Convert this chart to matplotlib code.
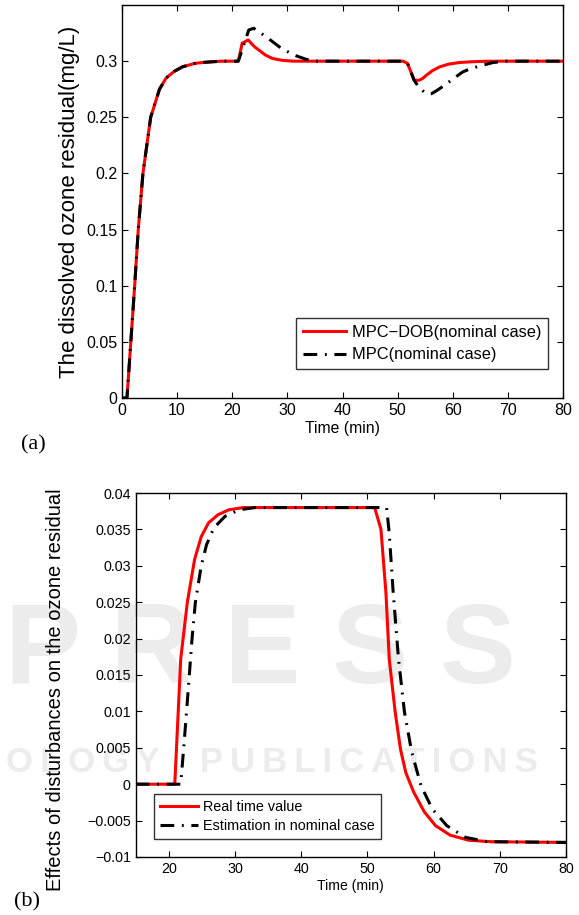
import numpy as np
import matplotlib
matplotlib.use("Agg")
import matplotlib.pyplot as plt
from matplotlib.ticker import FuncFormatter

plt.rcParams["font.family"] = ["Liberation Sans", "DejaVu Sans"]

# (a) dissolved ozone residual
t_dob = [0, 0.9, 1.6, 2.3, 2.95, 3.8, 5.2, 6.8, 8.0, 9.5, 11, 13.2, 15, 18, 21.1,
         21.8, 22.9, 23.6, 24.2, 24.8, 26, 27.3, 29, 31, 36, 51.0, 51.8, 53.0, 53.9,
         54.5, 55.2, 56.3, 57.6, 59.2, 61.2, 63.5, 66, 70, 80]
y_dob = [0, 0, 0.05, 0.10, 0.15, 0.20, 0.25, 0.275, 0.285, 0.291, 0.295, 0.298,
         0.299, 0.30, 0.30, 0.316, 0.3189, 0.315, 0.3122, 0.310, 0.3055, 0.3024,
         0.3008, 0.3, 0.3, 0.3, 0.298, 0.283, 0.283, 0.2845, 0.2874, 0.2915,
         0.2949, 0.2973, 0.2988, 0.2995, 0.2999, 0.3, 0.3]

t_mpc = [0, 0.9, 1.6, 2.3, 2.95, 3.8, 5.2, 6.8, 8.0, 9.5, 11, 13.2, 15, 18, 21.1,
         23.0, 23.9, 26.1, 28.5, 30.9, 33.3, 35.2, 51.0, 51.8, 53.0, 53.9, 55.2,
         56.1, 57.0, 58.2, 60.0, 61.8, 63.3, 64.8, 67.3, 69.7, 80]
y_mpc = [0, 0, 0.05, 0.10, 0.15, 0.20, 0.25, 0.275, 0.285, 0.291, 0.295, 0.298,
         0.299, 0.30, 0.30, 0.3278, 0.3293, 0.3219, 0.3129, 0.306, 0.3018, 0.3,
         0.3, 0.298, 0.283, 0.2763, 0.271, 0.271, 0.2735, 0.2775, 0.284, 0.2904,
         0.2935, 0.2955, 0.2988, 0.3, 0.3]

# (b) effects of disturbances
t_real = [15, 20.9, 21.8, 22.8, 23.9, 24.9, 26.0, 27.4, 29.1, 31.3, 51.1, 52.05,
          52.8, 53.3, 54.2, 55.0, 55.8, 57.0, 58.6, 60.3, 62.5, 65.3, 68.7, 80]
y_real = [0, 0, 0.0172, 0.025, 0.0309, 0.034, 0.0359, 0.037, 0.0377, 0.038, 0.038,
          0.035, 0.0263, 0.0172, 0.0099, 0.0048, 0.0016, -0.0011, -0.0038, -0.0057,
          -0.007, -0.0077, -0.0079, -0.008]

t_est = [15, 21.8, 22.4, 22.9, 23.5, 24.0, 24.9, 25.7, 26.8, 28.5, 30.7, 33, 52.9,
         53.3, 53.9, 54.7, 55.6, 56.7, 58.1, 59.8, 62.0, 64.8, 68.1, 80]
y_est = [0, 0, 0.0067, 0.0126, 0.0199, 0.0249, 0.03, 0.0329, 0.0352, 0.0368, 0.0377,
         0.038, 0.038, 0.0345, 0.0263, 0.0172, 0.0099, 0.0044, -0.0002, -0.0034,
         -0.0057, -0.0073, -0.0079, -0.008]


def fmt(v, pos):
    return f"{round(v, 6):g}".replace("-", "\u2212")


fig = plt.figure(figsize=(5.79, 9.15), dpi=100)

# faint publisher watermark behind the lower panel
wm = "#ececec"
fig.text(0.45, 0.285, "P R E S S", fontsize=82, fontweight="bold", color=wm,
         ha="center", va="center", zorder=-5)
fig.text(0.47, 0.167, "\u2009".join("OLOGY  PUBLICATIONS"), fontsize=25,
         fontweight="bold", color=wm, ha="center", va="center", zorder=-5)

ax1 = fig.add_axes([0.2107, 0.565, 0.7617, 0.4295])
ax2 = fig.add_axes([0.2344, 0.0634, 0.7431, 0.3978])
ax2.set_facecolor("none")

ax1.plot(t_dob, y_dob, color="red", lw=2.2, label="MPC\u2212DOB(nominal case)")
ax1.plot(t_mpc, y_mpc, color="black", lw=2.2, dashes=(4.5, 2.5, 0.6, 2.5),
         label="MPC(nominal case)")
ax1.set_xlim(0, 80)
ax1.set_ylim(0, 0.35)
ax1.set_xticks(np.arange(0, 81, 10))
ax1.set_yticks([0, 0.05, 0.1, 0.15, 0.2, 0.25, 0.3])
ax1.yaxis.set_major_formatter(FuncFormatter(fmt))
ax1.tick_params(direction="in", top=True, right=True, length=4, labelsize=11.5)
ax1.set_xlabel("Time (min)", fontsize=11.3, labelpad=2)
ax1.set_ylabel("The dissolved ozone residual(mg/L)", fontsize=16, labelpad=4)
leg1 = ax1.legend(loc="lower right", bbox_to_anchor=(0.966, 0.074), fontsize=11.8,
                  frameon=True, fancybox=False, edgecolor="black", handlelength=2.6,
                  borderpad=0.4, labelspacing=0.45, handletextpad=0.4,
                  borderaxespad=0)
leg1.get_frame().set_linewidth(1.0)

ax2.plot(t_real, y_real, color="red", lw=2.2, label="Real time value")
ax2.plot(t_est, y_est, color="black", lw=2.2, dashes=(4.5, 2.5, 0.6, 2.5),
         label="Estimation in nominal case")
ax2.set_xlim(15, 80)
ax2.set_ylim(-0.01, 0.04)
ax2.set_xticks(np.arange(20, 81, 10))
ax2.set_yticks(np.arange(-0.01, 0.0401, 0.005))
ax2.yaxis.set_major_formatter(FuncFormatter(fmt))
ax2.tick_params(direction="in", top=True, right=True, length=4, labelsize=10.3)
ax2.set_xlabel("Time (min)", fontsize=10.1, labelpad=2)
ax2.set_ylabel("Effects of disturbances on the ozone residual", fontsize=14.5)
ax2.yaxis.set_label_coords(-0.165, 0.46)
leg2 = ax2.legend(loc="lower left", bbox_to_anchor=(0.043, 0.049), fontsize=10.4,
                  frameon=True, fancybox=False, edgecolor="black", handlelength=2.6,
                  borderpad=0.4, labelspacing=0.4, handletextpad=0.4,
                  borderaxespad=0)
leg2.get_frame().set_linewidth(1.0)

for ax in (ax1, ax2):
    for s in ax.spines.values():
        s.set_linewidth(1.0)

fig.text(0.057, 1 - 445 / 915, "(a)", fontsize=16, family="Liberation Serif",
         ha="center", va="center")
fig.text(0.047, 1 - 902 / 915, "(b)", fontsize=16, family="Liberation Serif",
         ha="center", va="center")

fig.savefig("out.png", dpi=100)
